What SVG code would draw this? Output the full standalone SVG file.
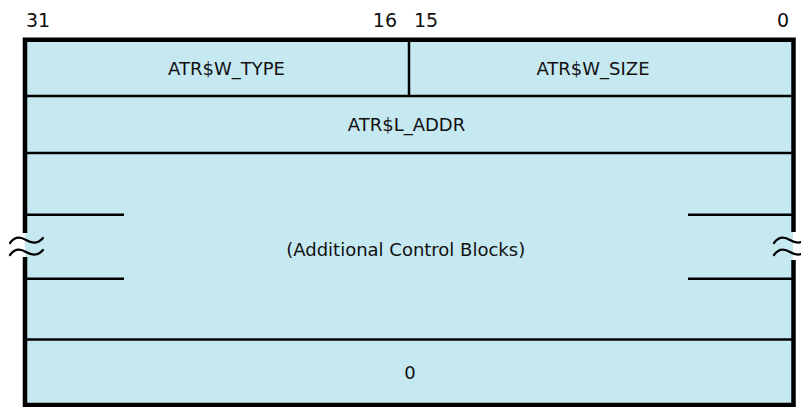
<svg xmlns="http://www.w3.org/2000/svg" width="801" height="407" viewBox="0 0 801 407">
<style>
.t{font-family:"DejaVu Sans","Liberation Sans",sans-serif;font-size:18px;fill:#111;}
.h{font-family:"DejaVu Sans","Liberation Sans",sans-serif;font-size:19px;fill:#111;}
.b{stroke:#000;stroke-width:4.5;fill:none;}
.d{stroke:#000;stroke-width:2.5;fill:none;}
.w{stroke:#000;stroke-width:2.2;fill:none;stroke-linecap:round;}
</style>
<defs>
<path id="tl" d="M0,0 C5,-7 11,-6 16,-3 C21,0 27,2 33,-5"/>
</defs>
<rect width="801" height="407" fill="#fff"/>
<g id="header">
<text class="h" x="26" y="27">31</text>
<text class="h" x="397" y="27" text-anchor="end">16</text>
<text class="h" x="414" y="27">15</text>
<text class="h" x="789" y="27" text-anchor="end">0</text>
</g>
<rect x="25" y="39.5" width="768" height="365.5" fill="#c6e8f1"/>
<g id="connectors">
<path class="d" d="M25,96 H793 M25,153 H793 M25,339.5 H793 M409,39.5 V96"/>
<path class="d" d="M27,214.7 H124 M27,278.7 H124 M688,214.7 H792 M688,278.7 H792"/>
<path class="b" d="M22.7,39.7 H795.8 M22.7,405 H795.8 M25,37.5 V233 M25,257 V407 M793.5,37.5 V232 M793.5,260 V407"/>
</g>
<g id="break-left">
<use href="#tl" class="w" x="10" y="243"/>
<use href="#tl" class="w" x="10" y="255"/>
</g>
<g id="break-right">
<use href="#tl" class="w" x="774" y="243"/>
<use href="#tl" class="w" x="774" y="255"/>
</g>
<g id="atr-w-type"><text class="t" x="226.5" y="75" text-anchor="middle">ATR$W_TYPE</text></g>
<g id="atr-w-size"><text class="t" x="593" y="75" text-anchor="middle">ATR$W_SIZE</text></g>
<g id="atr-l-addr"><text class="t" x="406.5" y="131" text-anchor="middle">ATR$L_ADDR</text></g>
<g id="additional"><text class="t" x="405.7" y="256" text-anchor="middle">(Additional Control Blocks)</text></g>
<g id="terminator"><text class="t" x="410" y="379" text-anchor="middle">0</text></g>
</svg>
